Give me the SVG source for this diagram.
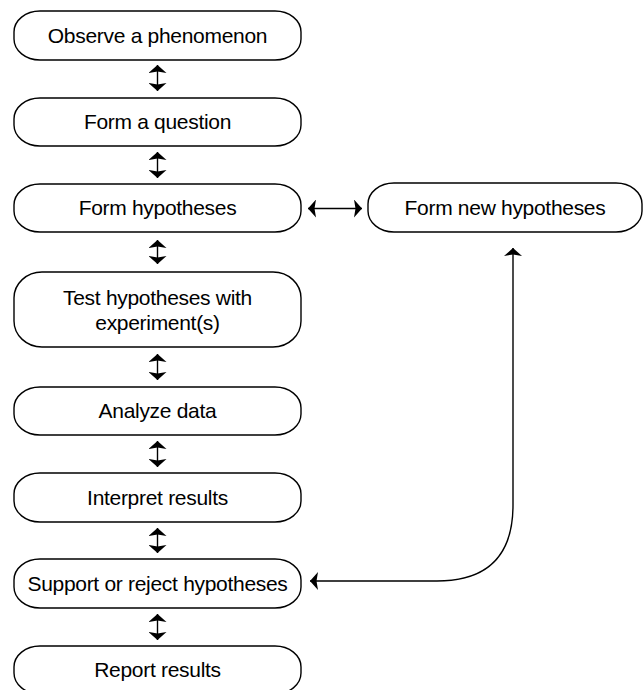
<svg xmlns="http://www.w3.org/2000/svg" width="643" height="690" viewBox="0 0 643 690">
<style>
.box{fill:#fff;stroke:#000;stroke-width:1.4}
.lbl{font-family:"Liberation Sans",Arial,sans-serif;font-size:21px;fill:#000;text-anchor:middle;letter-spacing:-0.3px}
.con{fill:none;stroke:#000;stroke-width:1.4}
</style>
<defs>
<marker id="ah" viewBox="0 0 8 18" refX="8" refY="9" markerWidth="8" markerHeight="18" orient="auto-start-reverse" markerUnits="userSpaceOnUse">
<path d="M0,0 L8,9 L0,18 L1.5,9 Z" fill="#000"/>
</marker>
</defs>
<rect width="643" height="690" fill="#fff"/>
<g id="n1"><rect class="box" x="14" y="11" width="287" height="49" rx="26" ry="21"/><text class="lbl" x="157.5" y="43">Observe a phenomenon</text></g>
<g id="n2"><rect class="box" x="14" y="98" width="287" height="48" rx="26" ry="21"/><text class="lbl" x="157.5" y="129">Form a question</text></g>
<g id="n3"><rect class="box" x="14" y="184" width="287" height="48" rx="26" ry="21"/><text class="lbl" x="157.5" y="215">Form hypotheses</text></g>
<g id="n4"><rect class="box" x="14" y="272" width="287" height="75" rx="28" ry="26"/><text class="lbl" x="157.5" y="305">Test hypotheses with</text><text class="lbl" x="157.5" y="330">experiment(s)</text></g>
<g id="n5"><rect class="box" x="14" y="387" width="287" height="48" rx="26" ry="21"/><text class="lbl" x="157.5" y="418">Analyze data</text></g>
<g id="n6"><rect class="box" x="14" y="473" width="287" height="49" rx="26" ry="21"/><text class="lbl" x="157.5" y="505">Interpret results</text></g>
<g id="n7"><rect class="box" x="14" y="559" width="287" height="49" rx="26" ry="21"/><text class="lbl" x="157.5" y="591">Support or reject hypotheses</text></g>
<g id="n8"><rect class="box" x="14" y="646" width="287" height="48" rx="26" ry="21"/><text class="lbl" x="157.5" y="677">Report results</text></g>
<g id="n9"><rect class="box" x="368" y="183" width="274" height="49" rx="26" ry="21"/><text class="lbl" x="505" y="215">Form new hypotheses</text></g>
<g id="connectors">
<line class="con" x1="157.5" y1="65" x2="157.5" y2="91" marker-start="url(#ah)" marker-end="url(#ah)"/>
<line class="con" x1="157.5" y1="152" x2="157.5" y2="178" marker-start="url(#ah)" marker-end="url(#ah)"/>
<line class="con" x1="157.5" y1="240" x2="157.5" y2="264" marker-start="url(#ah)" marker-end="url(#ah)"/>
<line class="con" x1="157.5" y1="354" x2="157.5" y2="380" marker-start="url(#ah)" marker-end="url(#ah)"/>
<line class="con" x1="157.5" y1="441" x2="157.5" y2="467" marker-start="url(#ah)" marker-end="url(#ah)"/>
<line class="con" x1="157.5" y1="528" x2="157.5" y2="553" marker-start="url(#ah)" marker-end="url(#ah)"/>
<line class="con" x1="157.5" y1="614" x2="157.5" y2="640" marker-start="url(#ah)" marker-end="url(#ah)"/>
<line class="con" x1="308" y1="208.5" x2="362" y2="208.5" marker-start="url(#ah)" marker-end="url(#ah)"/>
<path class="con" d="M513,248 L513,505 Q513,581 437,581 L310,581" marker-start="url(#ah)" marker-end="url(#ah)"/>
</g>
</svg>
